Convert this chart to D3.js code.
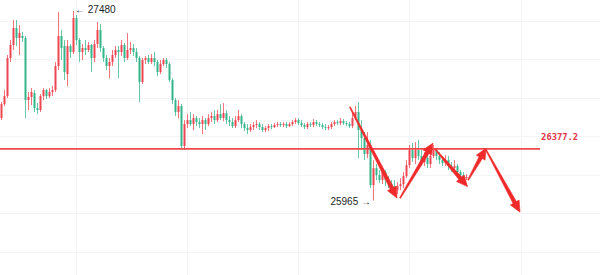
<!DOCTYPE html>
<html>
<head>
<meta charset="utf-8">
<script src="https://cdn.jsdelivr.net/npm/d3@7/dist/d3.min.js"></script>
<style>
  html, body { margin: 0; padding: 0; background: #fff; }
  svg { display: block; font-family: "Liberation Sans", Arial, sans-serif; }
</style>
</head>
<body>
<div id="chart"></div>
<script>
// candle prices, one entry per bar (red = up, green = down)
const opens = [
  26624, 26736, 26800, 27104, 27208, 27344, 27264, 27280, 27264, 26768,
  26792, 26824, 26704, 26688, 26800, 26848, 26800, 26832, 26848, 27040,
  27280, 27200, 26976, 27200, 27152, 27424, 27248, 27152, 27184, 27168,
  27208, 27104, 27216, 27328, 27184, 27104, 27040, 27072, 27128, 27168,
  27152, 27208, 27104, 27168, 27184, 27152, 27104, 26912, 27088, 27104,
  27072, 27104, 27072, 26992, 27056, 27088, 27056, 26928, 26768, 26672,
  26720, 26400, 26576, 26608, 26576, 26624, 26592, 26576, 26608, 26576,
  26624, 26640, 26608, 26656, 26624, 26664, 26608, 26592, 26560, 26608,
  26640, 26576, 26544, 26528, 26552, 26568, 26576, 26552, 26528, 26544,
  26560, 26552, 26568, 26576, 26568, 26576, 26560, 26576, 26592, 26608,
  26584, 26568, 26552, 26576, 26568, 26592, 26576, 26568, 26552, 26544,
  26552, 26576, 26592, 26584, 26600, 26584, 26576, 26560, 26624, 26672,
  26528, 26464, 26336, 26408, 26088, 26224, 26168, 26128, 26192, 26128,
  26096, 26080, 26048, 26080, 26096, 26160, 26248, 26368, 26304, 26368,
  26320, 26272, 26304, 26256, 26320, 26368, 26320, 26288, 26264, 26288,
  26240, 26224, 26240, 26192, 26168, 26144
];
const highs = [
  26752, 26848, 27128, 27248, 27408, 27408, 27368, 27312, 27280, 26832,
  26864, 26848, 26744, 26816, 26864, 26856, 26864, 26880, 27072, 27472,
  27328, 27248, 27248, 27216, 27480, 27448, 27264, 27216, 27248, 27232,
  27216, 27248, 27392, 27376, 27200, 27128, 27104, 27168, 27200, 27200,
  27248, 27224, 27304, 27232, 27216, 27184, 27120, 27104, 27120, 27128,
  27136, 27152, 27088, 27088, 27104, 27104, 27072, 26944, 26784, 26768,
  26736, 26608, 26656, 26672, 26656, 26640, 26624, 26640, 26624, 26656,
  26672, 26688, 26688, 26736, 26744, 26688, 26640, 26624, 26640, 26688,
  26656, 26592, 26576, 26576, 26592, 26608, 26592, 26576, 26560, 26576,
  26576, 26584, 26592, 26592, 26592, 26592, 26592, 26608, 26624, 26624,
  26608, 26584, 26592, 26592, 26616, 26608, 26592, 26584, 26576, 26568,
  26592, 26608, 26608, 26624, 26616, 26600, 26592, 26672, 26720, 26752,
  26608, 26512, 26512, 26448, 26288, 26256, 26208, 26224, 26208, 26160,
  26128, 26128, 26112, 26144, 26192, 26288, 26408, 26424, 26432, 26448,
  26368, 26352, 26336, 26368, 26408, 26384, 26352, 26320, 26328, 26320,
  26272, 26288, 26256, 26208, 26192, 26176
];
const lows = [
  26608, 26720, 26784, 27072, 27168, 27200, 27128, 27232, 26624, 26688,
  26728, 26672, 26656, 26672, 26768, 26776, 26784, 26800, 26832, 27008,
  27088, 26928, 26880, 27104, 27136, 27208, 27072, 27088, 27128, 27152,
  26992, 27072, 27184, 27152, 27072, 27008, 26944, 27040, 27104, 26944,
  27120, 27072, 27088, 27136, 27120, 27072, 26752, 26896, 27056, 27056,
  27056, 27040, 26960, 26976, 27040, 27024, 26912, 26736, 26640, 26624,
  26368, 26368, 26544, 26560, 26528, 26560, 26544, 26496, 26528, 26560,
  26592, 26576, 26592, 26608, 26600, 26576, 26560, 26544, 26544, 26592,
  26544, 26520, 26496, 26512, 26528, 26544, 26528, 26512, 26512, 26520,
  26536, 26544, 26552, 26552, 26552, 26544, 26552, 26560, 26576, 26568,
  26552, 26536, 26536, 26552, 26552, 26560, 26552, 26536, 26528, 26528,
  26536, 26560, 26568, 26568, 26568, 26560, 26544, 26544, 26608, 26304,
  26368, 26288, 26304, 26064, 25965, 26128, 26104, 26096, 26080, 26064,
  26048, 26016, 26016, 26048, 26064, 26144, 26224, 26272, 26256, 26288,
  26240, 26240, 26224, 26224, 26304, 26288, 26256, 26240, 26240, 26208,
  26192, 26192, 26160, 26144, 26128, 26128
];
const closes = [
  26736, 26800, 27104, 27208, 27344, 27264, 27304, 27264, 26768, 26792,
  26832, 26704, 26688, 26800, 26848, 26800, 26832, 26848, 27040, 27280,
  27184, 26992, 27200, 27152, 27424, 27248, 27152, 27184, 27168, 27208,
  27104, 27216, 27328, 27184, 27104, 27040, 27072, 27128, 27168, 27152,
  27208, 27104, 27168, 27184, 27152, 27104, 26912, 27088, 27104, 27072,
  27104, 27072, 26992, 27056, 27088, 27056, 26928, 26768, 26672, 26720,
  26400, 26576, 26608, 26576, 26624, 26592, 26576, 26608, 26576, 26624,
  26640, 26608, 26656, 26624, 26664, 26608, 26592, 26560, 26608, 26640,
  26576, 26544, 26528, 26552, 26568, 26576, 26552, 26528, 26544, 26560,
  26552, 26568, 26576, 26568, 26576, 26560, 26576, 26592, 26608, 26584,
  26568, 26552, 26576, 26568, 26592, 26576, 26568, 26552, 26544, 26552,
  26576, 26592, 26584, 26600, 26584, 26576, 26560, 26624, 26672, 26528,
  26464, 26336, 26408, 26088, 26224, 26168, 26128, 26192, 26128, 26096,
  26080, 26048, 26080, 26096, 26160, 26248, 26368, 26304, 26368, 26320,
  26272, 26304, 26256, 26320, 26368, 26320, 26288, 26264, 26288, 26240,
  26224, 26240, 26192, 26168, 26144, 26152
];

// annotations
const levelPrice = 26377.2;
const levelLabel = '26377.2';
const levelEnd = 179.7; // bar index where the level line stops
const highMark = { idx: 24, price: 27480, text: '27480' };
const lowMark = { idx: 124, price: 25965, text: '25965' };

// hand-drawn arrows: [fromIdx, fromPrice, toIdx, toPrice]
const arrows = [
  [116.3, 26712, 132.0, 25984],
  [133.0, 25984, 144.0, 26424],
  [144.7, 26376, 155.5, 26076],
  [155.7, 26128, 161.7, 26384],
  [161.7, 26368, 173.0, 25872]
];

// faint grid
const gridIdx = [24.9, 61.9, 99, 136.1, 173.2];
const gridPrices = [27404, 27096, 26788, 26480, 26172, 25864, 25556];

const width = 600;
const height = 275;

const candles = closes.map((c, i) => ({
  i,
  open: opens[i],
  high: highs[i],
  low: lows[i],
  close: c,
}));

const x = d3.scaleLinear().domain([0, candles.length - 1]).range([1, 466]);
const y = d3.scaleLinear().domain([25965, 27480]).range([200.5, 11]);

const up = '#ef3340';
const down = '#1eae80';

const svg = d3
  .select('#chart')
  .append('svg')
  .attr('width', width)
  .attr('height', height);

svg
  .append('g')
  .attr('class', 'grid')
  .selectAll('line.v')
  .data(gridIdx)
  .join('line')
  .attr('x1', (d) => Math.round(x(d)) + 0.5)
  .attr('x2', (d) => Math.round(x(d)) + 0.5)
  .attr('y1', 0)
  .attr('y2', height)
  .attr('stroke', '#f3f4f6');

svg
  .select('.grid')
  .selectAll('line.h')
  .data(gridPrices)
  .join((enter) => enter.append('line').attr('class', 'h'))
  .attr('x1', 0)
  .attr('x2', width)
  .attr('y1', (d) => Math.round(y(d)) + 0.5)
  .attr('y2', (d) => Math.round(y(d)) + 0.5)
  .attr('stroke', '#f3f4f6');

// candles
const bars = svg
  .append('g')
  .attr('class', 'candles')
  .selectAll('g')
  .data(candles)
  .join('g')
  .attr('opacity', 0.9);

bars
  .append('line')
  .attr('x1', (d) => Math.round(x(d.i)) + 0.5)
  .attr('x2', (d) => Math.round(x(d.i)) + 0.5)
  .attr('y1', (d) => y(d.high))
  .attr('y2', (d) => y(d.low))
  .attr('stroke', (d) => (d.close >= d.open ? up : down))
  .attr('stroke-opacity', 0.75);

bars
  .append('rect')
  .attr('x', (d) => Math.round(x(d.i)) - 0.5)
  .attr('width', 2)
  .attr('y', (d) => y(Math.max(d.open, d.close)))
  .attr('height', (d) => Math.max(1, Math.abs(y(d.open) - y(d.close))))
  .attr('fill', (d) => (d.close >= d.open ? up : down));

// level line
svg
  .append('line')
  .attr('x1', 0)
  .attr('x2', x(levelEnd))
  .attr('y1', y(levelPrice))
  .attr('y2', y(levelPrice))
  .attr('stroke', '#f04848')
  .attr('stroke-width', 1.7);

svg
  .append('text')
  .attr('x', x(levelEnd) + 1)
  .attr('y', y(levelPrice) - 12)
  .attr('dy', '0.35em')
  .attr('fill', '#e03848')
  .style('font-family', '"DejaVu Sans Mono", monospace')
  .style('font-size', '8.8px')
  .style('font-weight', 'bold')
  .text(levelLabel);

// high / low marks
svg
  .append('text')
  .attr('x', x(highMark.idx) + 2)
  .attr('y', y(highMark.price) - 2)
  .attr('dy', '0.35em')
  .attr('fill', '#1c1f26')
  .style('font-size', '10px')
  .text('\u2190 ' + highMark.text);

svg
  .append('text')
  .attr('x', x(lowMark.idx) - 2)
  .attr('y', y(lowMark.price) + 1)
  .attr('dy', '0.35em')
  .attr('text-anchor', 'end')
  .attr('fill', '#1c1f26')
  .style('font-size', '10px')
  .text(lowMark.text + ' \u2192');

// tapered arrows
function arrowPath([i0, p0, i1, p1]) {
  let x0 = x(i0), y0 = y(p0), x1 = x(i1), y1 = y(p1);
  let dx = x1 - x0, dy = y1 - y0;
  let len = Math.hypot(dx, dy);
  let ux = dx / len, uy = dy / len;
  let nx = -uy, ny = ux;
  let headLen = 11, headW = 5, tail = 0.5, neck = 1.9;
  let bx = x1 - ux * headLen, by = y1 - uy * headLen;
  let pts = [
    [x0 + nx * tail, y0 + ny * tail],
    [bx + nx * neck, by + ny * neck],
    [bx + nx * headW, by + ny * headW],
    [x1, y1],
    [bx - nx * headW, by - ny * headW],
    [bx - nx * neck, by - ny * neck],
    [x0 - nx * tail, y0 - ny * tail],
  ];
  return 'M' + pts.map((p) => p.join(',')).join('L') + 'Z';
}

svg
  .append('g')
  .attr('class', 'arrows')
  .selectAll('path')
  .data(arrows)
  .join('path')
  .attr('d', arrowPath)
  .attr('fill', '#f02a2a')
  .attr('stroke', '#f02a2a')
  .attr('stroke-width', 0.6)
  .attr('stroke-linejoin', 'round');
</script>
</body>
</html>
